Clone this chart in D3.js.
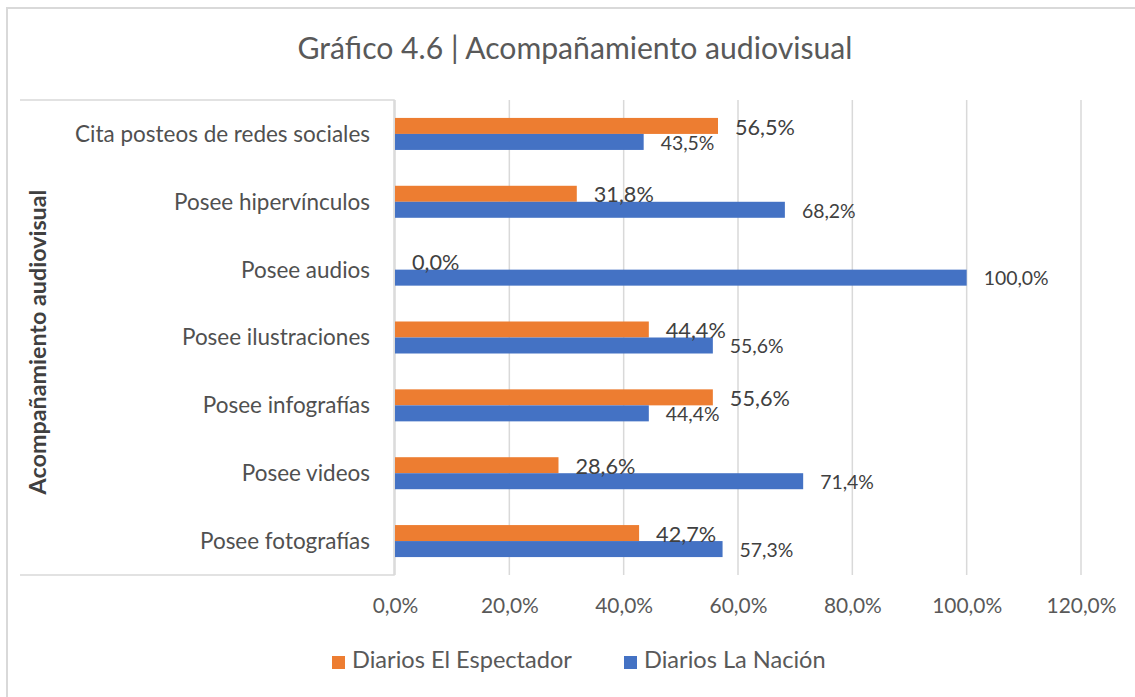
<!DOCTYPE html>
<html>
<head>
<meta charset="utf-8">
<script src="https://cdn.jsdelivr.net/npm/d3@7"></script>
<style>
  html, body { margin: 0; padding: 0; background: #fff; }
  svg { display: block; font-family: Lato, "Open Sans", sans-serif; }
</style>
</head>
<body>
<svg id="chart" width="1135" height="697"></svg>
<script>
const title = "Gráfico 4.6 | Acompañamiento audiovisual";
const yAxisTitle = "Acompañamiento audiovisual";
const categories = [
  "Cita posteos de redes sociales",
  "Posee hipervínculos",
  "Posee audios",
  "Posee ilustraciones",
  "Posee infografías",
  "Posee videos",
  "Posee fotografías"
];
const seriesNames = ["Diarios El Espectador", "Diarios La Nación"];
const espectador = [56.5, 31.8, 0.0, 44.4, 55.6, 28.6, 42.7];
const nacion = [43.5, 68.2, 100.0, 55.6, 44.4, 71.4, 57.3];
const xTicks = [0, 20, 40, 60, 80, 100, 120];
const colors = ["#ED7D31", "#4472C4"];

const svg = d3.select("#chart");
const fmt = v => v.toFixed(1).replace(".", ",") + "%";

function fitGroup(sel, sampleNode, target) {
  const w = sampleNode.getComputedTextLength();
  const fs = parseFloat(d3.select(sampleNode).attr("font-size"));
  sel.attr("font-size", fs * target / w);
}

// outer frame
svg.append("path")
  .attr("d", "M7,697 L7,8 L1135,8")
  .attr("fill", "none").attr("stroke", "#d9d9d9").attr("stroke-width", 2);

const x = d3.scaleLinear().domain([0, 120]).range([395, 1081]);
const y = d3.scaleBand().domain(categories).range([100, 575]).padding(0);
const ys = d3.scaleBand().domain(seriesNames).range([0, y.bandwidth()])
  .paddingInner(0).paddingOuter(1.12);

// gridlines
svg.append("g").selectAll("line").data(xTicks).join("line")
  .attr("x1", d => x(d)).attr("x2", d => x(d))
  .attr("y1", 100).attr("y2", 575)
  .attr("stroke", "#d9d9d9").attr("stroke-width", 1.5);

// x tick labels via axis
const xAxis = svg.append("g").attr("transform", "translate(0,575)")
  .call(d3.axisBottom(x).tickValues(xTicks).tickFormat(fmt).tickSize(0).tickPadding(0));
xAxis.select(".domain").remove();
const tickTexts = xAxis.selectAll("text")
  .attr("fill", "#595959").attr("font-family", "Lato").attr("font-size", 20)
  .attr("dy", 0).attr("y", 38);
fitGroup(tickTexts, tickTexts.nodes()[6], 70);

// left category panel
const panel = svg.append("g");
panel.append("rect").attr("x", 20).attr("y", 100).attr("width", 374).attr("height", 475)
  .attr("fill", "#fff");
panel.append("path")
  .attr("d", "M20,100 L394,100 L394,575 L20,575")
  .attr("fill", "none").attr("stroke", "#d9d9d9").attr("stroke-width", 1.5);

const catTexts = panel.selectAll("text.cat").data(categories).join("text")
  .attr("class", "cat")
  .attr("x", 370).attr("y", d => y(d) + y.bandwidth() / 2)
  .attr("dy", "0.35em").attr("text-anchor", "end")
  .attr("fill", "#505050").attr("font-size", 20)
  .text(d => d);
fitGroup(catTexts, catTexts.nodes()[0], 295);

// y axis title
const yt = svg.append("text")
  .attr("transform", "translate(46,342) rotate(-90)")
  .attr("text-anchor", "middle").attr("font-weight", "bold")
  .attr("fill", "#404040").attr("font-size", 18)
  .text(yAxisTitle);
fitGroup(yt, yt.node(), 305);

// bars
const rows = categories.map((c, i) => ({ c, vals: [espectador[i], nacion[i]] }));
const g = svg.append("g").selectAll("g").data(rows).join("g")
  .attr("transform", d => `translate(0,${y(d.c)})`);
g.selectAll("rect").data(d => seriesNames.map((s, j) => ({ s, v: d.vals[j], j })))
  .join("rect")
  .attr("x", x(0)).attr("y", d => ys(d.s))
  .attr("width", d => x(d.v) - x(0)).attr("height", ys.bandwidth())
  .attr("fill", d => colors[d.j]);

// data labels
const orangeLabels = g.append("text")
  .attr("x", d => x(d.vals[0]) + 17)
  .attr("y", d => ys(seriesNames[0]) + ys.bandwidth() / 2 + 1)
  .attr("dy", "0.35em").attr("fill", "#404040").attr("font-size", 18)
  .text(d => fmt(d.vals[0]));
fitGroup(orangeLabels, orangeLabels.nodes()[0], 60);
const blueLabels = g.append("text")
  .attr("x", d => x(d.vals[1]) + 17)
  .attr("y", d => ys(seriesNames[1]) + ys.bandwidth() / 2 + 1)
  .attr("dy", "0.35em").attr("fill", "#404040").attr("font-size", 16)
  .text(d => fmt(d.vals[1]));
fitGroup(blueLabels, blueLabels.nodes()[2], 65);

// title
const tt = svg.append("text").attr("x", 575).attr("y", 59)
  .attr("text-anchor", "middle").attr("fill", "#595959").attr("font-size", 24)
  .text(title);
fitGroup(tt, tt.node(), 555);

// legend
const legX = [332, 624];
const leg = svg.append("g").selectAll("g").data(seriesNames).join("g");
leg.append("rect").attr("x", (d, i) => legX[i]).attr("y", 656)
  .attr("width", 13).attr("height", 13).attr("fill", (d, i) => colors[i]);
const legTexts = leg.append("text").attr("x", (d, i) => legX[i] + 20).attr("y", 668)
  .attr("fill", "#595959").attr("font-size", 20).text(d => d);
fitGroup(legTexts, legTexts.nodes()[0], 220);
</script>
</body>
</html>
